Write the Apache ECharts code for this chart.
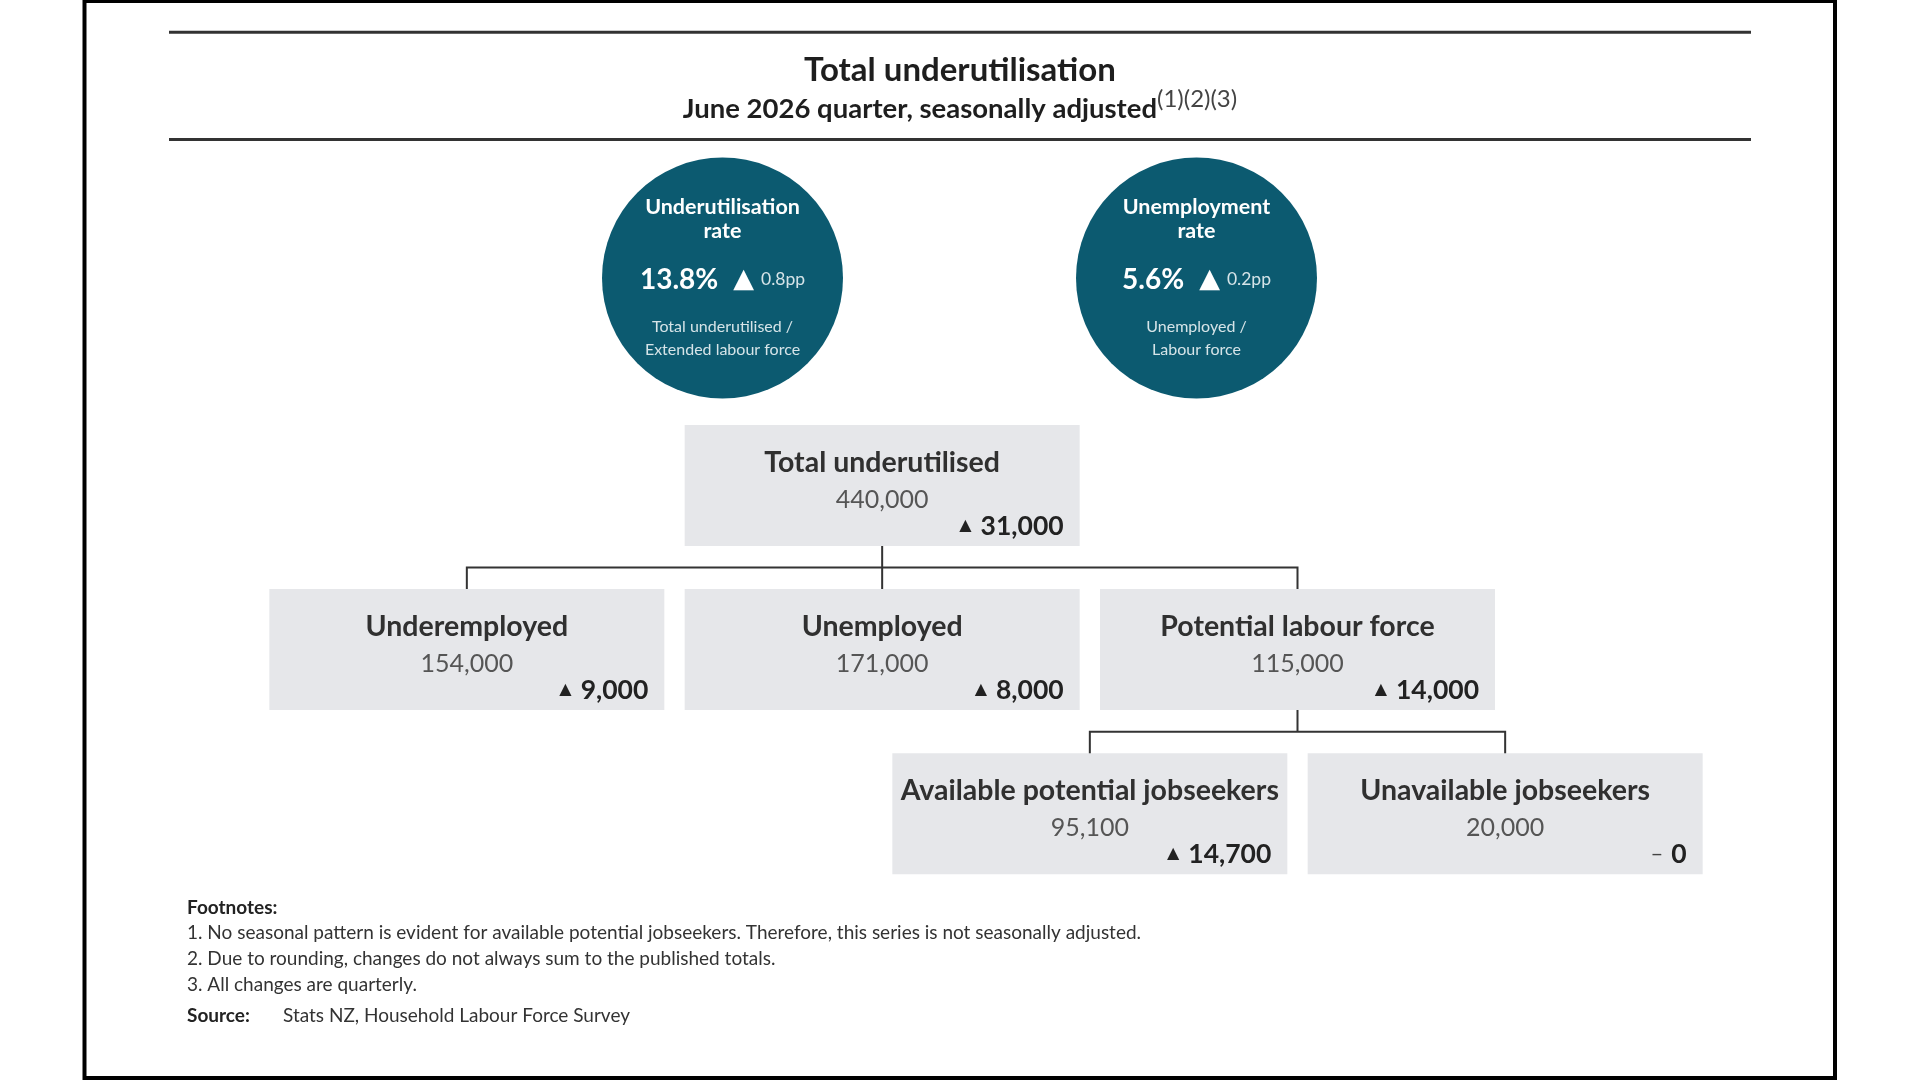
<!DOCTYPE html>
<html>
<head>
<meta charset="utf-8">
<script src="https://cdn.jsdelivr.net/npm/echarts@6/dist/echarts.min.js"></script>
<style>
html,body{margin:0;padding:0;background:#fff;}
#chart{width:1920px;height:1080px;}
</style>
</head>
<body>
<div id="chart"></div>
<script>
// ---- data ----
const titleText = 'Total underutilisation';
const subtitleText = 'June 2026 quarter, seasonally adjusted';
const subtitleNotes = '(1)(2)(3)';

const rateNames = ['Underutilisation\nrate', 'Unemployment\nrate'];
const rateValues = [13.8, 5.6];
const rateChanges = [0.8, 0.2];
const rateDefinitions = ['Total underutilised /\nExtended labour force', 'Unemployed /\nLabour force'];

const nodeNames = ['Total underutilised', 'Underemployed', 'Unemployed', 'Potential labour force', 'Available potential jobseekers', 'Unavailable jobseekers'];
const nodeValues = [440000, 154000, 171000, 115000, 95100, 20000];
const nodeChanges = [31000, 9000, 8000, 14000, 14700, 0];
const nodeParents = [null, 0, 0, 0, 3, 3];

const footnoteHeading = 'Footnotes:';
const footnotes = [
  '1. No seasonal pattern is evident for available potential jobseekers. Therefore, this series is not seasonally adjusted.',
  '2. Due to rounding, changes do not always sum to the published totals.',
  '3. All changes are quarterly.'
];
const sourceLabel = 'Source:';
const sourceText = 'Stats NZ, Household Labour Force Survey';

// ---- build ----
const FONT = 'Lato, "Noto Sans", sans-serif';
const fmt = v => v.toLocaleString('en-US');

const nodes = nodeNames.map((n, i) => ({ name: n, value: nodeValues[i], change: nodeChanges[i], children: [] }));
let root = null;
nodeParents.forEach((p, i) => { if (p === null) root = nodes[i]; else nodes[p].children.push(nodes[i]); });

function nodeLabel(p) {
  const d = p.data;
  const chg = d.change > 0 ? '{tri|▲}{c|' + fmt(d.change) + '}' : '{dash|–}{c|' + fmt(d.change) + '}';
  return '{t|' + d.name + '}\n{v|' + fmt(d.value) + '}\n' + chg;
}
const nodeRich = {
  t: { fontFamily: FONT, fontSize: 28.5, fontWeight: 'bold', color: '#303030', lineHeight: 40, align: 'center' },
  v: { fontFamily: FONT, fontSize: 25, color: '#555', lineHeight: 33, align: 'center' },
  tri: { fontFamily: 'DejaVu Sans', fontSize: 16, color: '#222', lineHeight: 20, align: 'right', padding: [0, 9, 0, 0] },
  dash: { fontFamily: FONT, fontSize: 22, color: '#444', lineHeight: 20, align: 'right', padding: [0, 8, 0, 0] },
  c: { fontFamily: FONT, fontSize: 26.5, fontWeight: 'bold', color: '#222', lineHeight: 20, align: 'right' }
};

const labelCfg = { show: true, position: 'inside', width: 363, formatter: nodeLabel, rich: nodeRich, offset: [0, 4] };

function rateLabel(p) {
  const i = p.dataIndex;
  const t = rateNames[i].split('\n').map(s => '{t|' + s + '}').join('\n');
  const d = rateDefinitions[i].split('\n').map(s => '{d|' + s + '}').join('\n');
  return t + '\n{v|' + rateValues[i].toFixed(1) + '%}{tri|▲}{pp|' + rateChanges[i].toFixed(1) + 'pp}\n' + d;
}

const chart = echarts.init(document.getElementById('chart'), null, { renderer: 'canvas' });
chart.setOption({
  backgroundColor: '#ffffff',
  animation: false,
  title: {
    text: titleText,
    subtext: '{m|' + subtitleText + '}{s|' + subtitleNotes + '}',
    left: 'center',
    top: 48,
    itemGap: 7,
    textStyle: { fontFamily: FONT, fontSize: 33, fontWeight: 'bold', color: '#1e1e1e', lineHeight: 34 },
    subtextStyle: {
      lineHeight: 30,
      rich: {
        m: { fontFamily: FONT, fontSize: 27.5, fontWeight: 'bold', color: '#1e1e1e', lineHeight: 30 },
        s: { fontFamily: FONT, fontSize: 24, color: '#444', lineHeight: 10, padding: [0, 0, 20, 0] }
      }
    }
  },
  grid: { left: 485.5, width: 948, top: 158, height: 240, show: false },
  xAxis: { type: 'category', data: rateNames, show: false },
  yAxis: { type: 'category', data: ['rate'], show: false },
  series: [
    {
      type: 'scatter',
      symbol: 'circle',
      symbolSize: 241,
      silent: true,
      itemStyle: { color: '#0c5a70', opacity: 1 },
      data: rateNames.map((n, i) => [n, 'rate']),
      label: {
        show: true, position: 'inside', formatter: rateLabel,
        rich: {
          t: { fontFamily: FONT, fontSize: 21.5, fontWeight: 'bold', color: '#fff', lineHeight: 24.5, align: 'center' },
          v: { fontFamily: FONT, fontSize: 28, fontWeight: 'bold', color: '#fff', lineHeight: 72 },
          tri: { fontFamily: 'DejaVu Sans', fontSize: 27, color: '#fff', lineHeight: 72, padding: [0, 7, 0, 15] },
          pp: { fontFamily: FONT, fontSize: 17.5, color: '#d6e4e8', lineHeight: 72 },
          d: { fontFamily: FONT, fontSize: 16, color: '#d6e4e8', lineHeight: 23, align: 'center' }
        }
      }
    },
    {
      type: 'tree',
      data: [root],
      orient: 'TB',
      layout: 'orthogonal',
      edgeShape: 'polyline',
      edgeForkPosition: '50%',
      left: 51.5, width: 1869, top: 485.5, height: 328.2,
      roam: false,
      expandAndCollapse: false,
      initialTreeDepth: -1,
      symbol: 'rect',
      symbolSize: [395, 121],
      itemStyle: { color: '#e6e7ea', borderWidth: 0 },
      lineStyle: { color: '#333', width: 2, curveness: 0 },
      label: labelCfg,
      leaves: { label: labelCfg },
      emphasis: { disabled: true },
      silent: true
    }
  ],
  graphic: [
    { type: 'rect', shape: { x: 84.5, y: 1, width: 1750.5, height: 1077 }, style: { fill: null, stroke: '#000', lineWidth: 4 }, silent: true },
    { type: 'line', shape: { x1: 169, y1: 32.3, x2: 1751, y2: 32.3 }, style: { stroke: '#333', lineWidth: 3 }, silent: true },
    { type: 'line', shape: { x1: 169, y1: 139.6, x2: 1751, y2: 139.6 }, style: { stroke: '#333', lineWidth: 3 }, silent: true },
    { type: 'text', x: 187, y: 907.5, style: { text: footnoteHeading, font: 'bold 19px ' + FONT, fill: '#222', textVerticalAlign: 'middle' }, silent: true },
    { type: 'text', x: 187, y: 933, style: { text: footnotes[0], font: '19px ' + FONT, fill: '#333', textVerticalAlign: 'middle' }, silent: true },
    { type: 'text', x: 187, y: 959, style: { text: footnotes[1], font: '19px ' + FONT, fill: '#333', textVerticalAlign: 'middle' }, silent: true },
    { type: 'text', x: 187, y: 985, style: { text: footnotes[2], font: '19px ' + FONT, fill: '#333', textVerticalAlign: 'middle' }, silent: true },
    { type: 'text', x: 187, y: 1015.5, style: { text: sourceLabel, font: 'bold 19px ' + FONT, fill: '#222', textVerticalAlign: 'middle' }, silent: true },
    { type: 'text', x: 283, y: 1015.5, style: { text: sourceText, font: '19px ' + FONT, fill: '#333', textVerticalAlign: 'middle' }, silent: true }
  ]
});
</script>
</body>
</html>
